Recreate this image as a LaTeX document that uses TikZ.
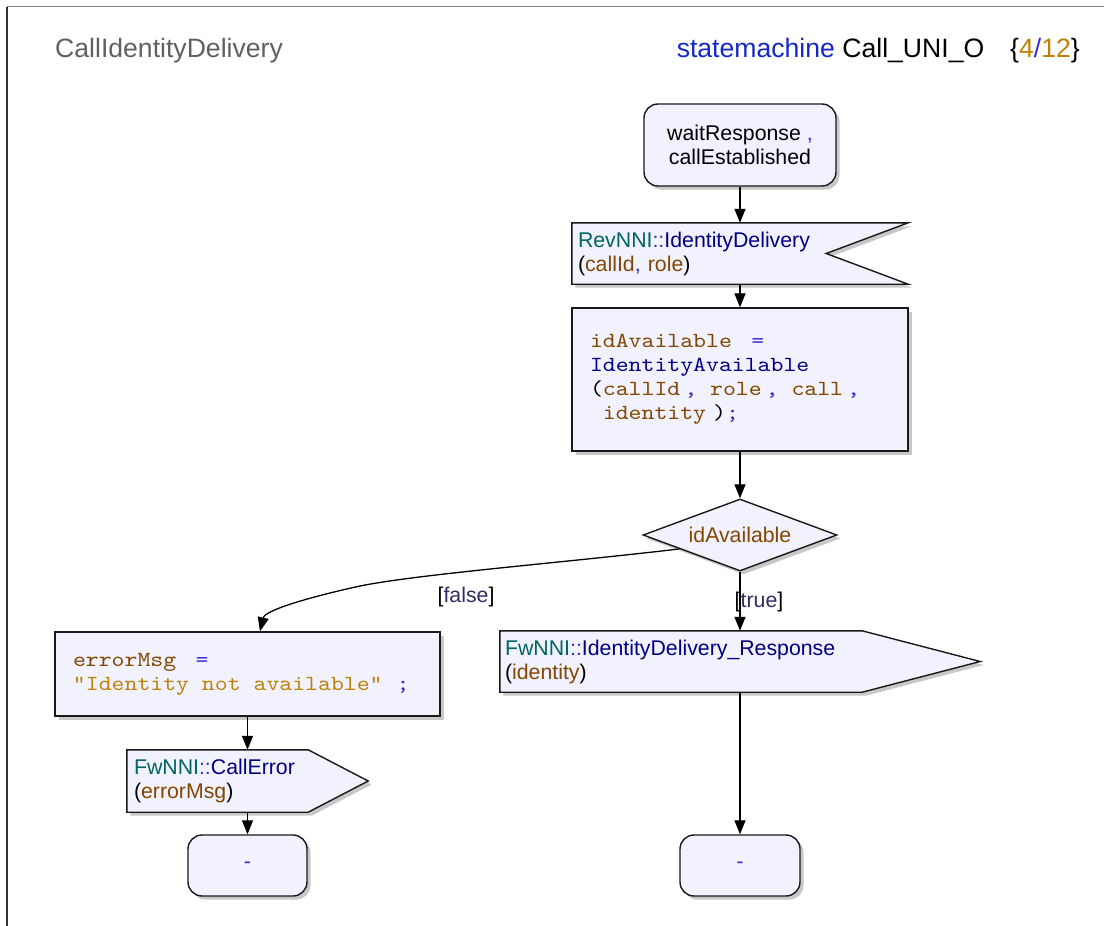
\documentclass[tikz,border=0pt]{standalone}
\usepackage{fontspec}
\setmainfont{Liberation Sans}
\setsansfont{Liberation Sans}
\setmonofont{lmmono10-regular.otf}[FakeStretch=1.143]
\usetikzlibrary{arrows.meta,shapes.geometric,shadows,calc,backgrounds}

\definecolor{nodefill}{RGB}{242,242,254}
\definecolor{edge}{RGB}{25,25,25}
\definecolor{shade}{RGB}{200,200,200}
\definecolor{cteal}{RGB}{0,100,100}
\definecolor{cnavy}{RGB}{0,0,130}
\definecolor{cbrown}{RGB}{130,70,0}
\definecolor{cgold}{RGB}{190,130,10}
\definecolor{cop}{RGB}{60,40,210}
\definecolor{cscope}{RGB}{50,50,190}
\definecolor{cguard}{RGB}{45,45,100}
\definecolor{ctitle}{RGB}{96,96,96}
\definecolor{ckey}{RGB}{20,40,200}
\definecolor{fgray}{RGB}{128,128,128}
\definecolor{fdark}{RGB}{50,50,50}

\newcommand\nodesize{\fontsize{21.3}{24}\selectfont}
\newcommand\codesize{\fontsize{21.5}{24}\selectfont\ttfamily}
\newcommand\headsize{\fontsize{26.6}{30}\selectfont}
\newcommand\cTl[1]{\textcolor{cteal}{#1}}
\newcommand\cSc[1]{\textcolor{cscope}{#1}}
\newcommand\cNv[1]{\textcolor{cnavy}{#1}}
\newcommand\cBr[1]{\textcolor{cbrown}{#1}}
\newcommand\cOp[1]{\textcolor{cop}{#1}}
\newcommand\cGd[1]{\textcolor{cgold}{#1}}
% one fixed-width blank in code text
\newcommand\tsp{\hphantom{x}}

\begin{document}
\begin{tikzpicture}[x=1pt,y=-1pt,
  shadowed/.style={drop shadow={shadow xshift=3.5pt,shadow yshift=-3.5pt,fill=shade,opacity=1}},
  statebox/.style={shadowed,draw=edge,line width=1.4pt,fill=nodefill,rounded corners=14pt,
    inner sep=0pt,align=center,font=\nodesize},
  taskbox/.style={shadowed,draw=edge,line width=1.4pt,fill=nodefill,
    inner xsep=18pt,inner ysep=0pt,align=left,font=\codesize},
  sigtext/.style={inner ysep=0pt,align=left,font=\nodesize},
  sigshape/.style={shadowed,draw=edge,line width=1.4pt,fill=nodefill},
  decision/.style={shadowed,diamond,aspect=2.7,draw=edge,line width=1.4pt,fill=nodefill,
    inner sep=0pt,font=\nodesize},
  guard/.style={font=\nodesize,text=cguard,inner sep=0pt},
  conn/.style={draw=black,line width=1.3pt,-{Triangle[length=14pt,width=11pt]}}]

\useasboundingbox (0,0) rectangle (1104,926);

% page frame
\draw[fgray,line width=1.5pt] (7,6.5) -- (1104,6.5);
\draw[fdark,line width=1.5pt] (7,6.5) -- (7,926);

% header
\node[anchor=base west,inner sep=0pt,font=\headsize,text=ctitle] (title) at (55,57) {CallIdentityDelivery};
\node[anchor=base east,inner sep=0pt,font=\headsize] (machine) at (1080,57)
  {\textcolor{ckey}{statemachine} Call\_UNI\_O\hspace{26pt}\{\cGd{4}\cOp{/}\cGd{12}\}};

% states, tasks and decision
\node[statebox,minimum width=192pt,minimum height=82pt] (start) at (740,145)
  {waitResponse \cOp{,}\\callEstablished};

\node[sigtext,inner xsep=6pt,text width=324pt,minimum height=61pt] (rcv) at (740,253.5)
  {\cTl{RevNNI}\cSc{::}\cNv{IdentityDelivery}\\(\cBr{callId}\cOp{,} \cBr{role})};

\node[taskbox,text width=300pt,minimum height=143pt] (check) at (740,379.5)
  {\cBr{idAvailable}\hspace{19.4pt}\cOp{=}\\
   \cNv{IdentityAvailable}\\
   (\cBr{callId}\hspace{4pt}\cOp{,}\hspace{12.9pt}\cBr{role}\hspace{4pt}\cOp{,}\hspace{12.9pt}\cBr{call}\hspace{4pt}\cOp{,}\\
   \hspace*{12.9pt}\cBr{identity}\hspace{7pt})\cOp{;}};

\node[decision,minimum width=194pt,minimum height=72pt] (dec) at (740,535) {\cBr{idAvailable}};

\node[sigtext,inner xsep=5pt,text width=470pt,minimum height=61pt] (sndR) at (740,661.5)
  {\cTl{FwNNI}\cSc{::}\cNv{IdentityDelivery\_Response}\\(\cBr{identity})};

\node[taskbox,text width=349pt,minimum height=84pt] (err) at (247.5,674)
  {\cBr{errorMsg}\hspace{19.4pt}\cOp{=}\\\cGd{"Identity\tsp not\tsp available"}\hspace{14pt}\cOp{;}};

\node[sigtext,inner xsep=7pt,text width=227pt,minimum height=62pt] (sndE) at (247.5,781)
  {\cTl{FwNNI}\cSc{::}\cNv{CallError}\\(\cBr{errorMsg})};

\node[statebox,minimum width=119pt,minimum height=61pt] (endL) at (247.5,865.5) {\cOp{-}};
\node[statebox,minimum width=120pt,minimum height=61pt] (endR) at (740,865.5) {\cOp{-}};

% signal outlines behind their texts
\begin{scope}[on background layer]
  \path[sigshape] (rcv.north west) -- (rcv.north east) -- ([xshift=-82pt]rcv.east)
    -- (rcv.south east) -- (rcv.south west) -- cycle;
  \path[sigshape] (sndR.north west) -- ([xshift=-118pt]sndR.north east) -- (sndR.east)
    -- ([xshift=-118pt]sndR.south east) -- (sndR.south west) -- cycle;
  \path[sigshape] (sndE.north west) -- ([xshift=-60pt]sndE.north east) -- (sndE.east)
    -- ([xshift=-60pt]sndE.south east) -- (sndE.south west) -- cycle;
\end{scope}

% transitions
\draw[conn] (start) -- (rcv);
\draw[conn] (rcv) -- (check);
\draw[conn] (check) -- (dec);
\draw[conn] (dec) -- node[guard,pos=0.52,xshift=19pt] (gtrue) {\textcolor{black}{[}true\textcolor{black}{]}} (sndR);
\draw[conn] (sndR) -- (endR);

\coordinate (fstart) at ($(dec.west)!0.38!(dec.south)$);
\coordinate (fend) at ([xshift=12.5pt]err.north);
\draw[conn] (fstart) .. controls (560,563) and (420,574) .. (360,586)
  .. controls (310,597) and (265,610) .. (fend);
\node[guard] (gfalse) at (466,597) {\textcolor{black}{[}false\textcolor{black}{]}};

\draw[conn] (err) -- (sndE);
\draw[conn] (sndE) -- (endL);
\end{tikzpicture}
\end{document}
